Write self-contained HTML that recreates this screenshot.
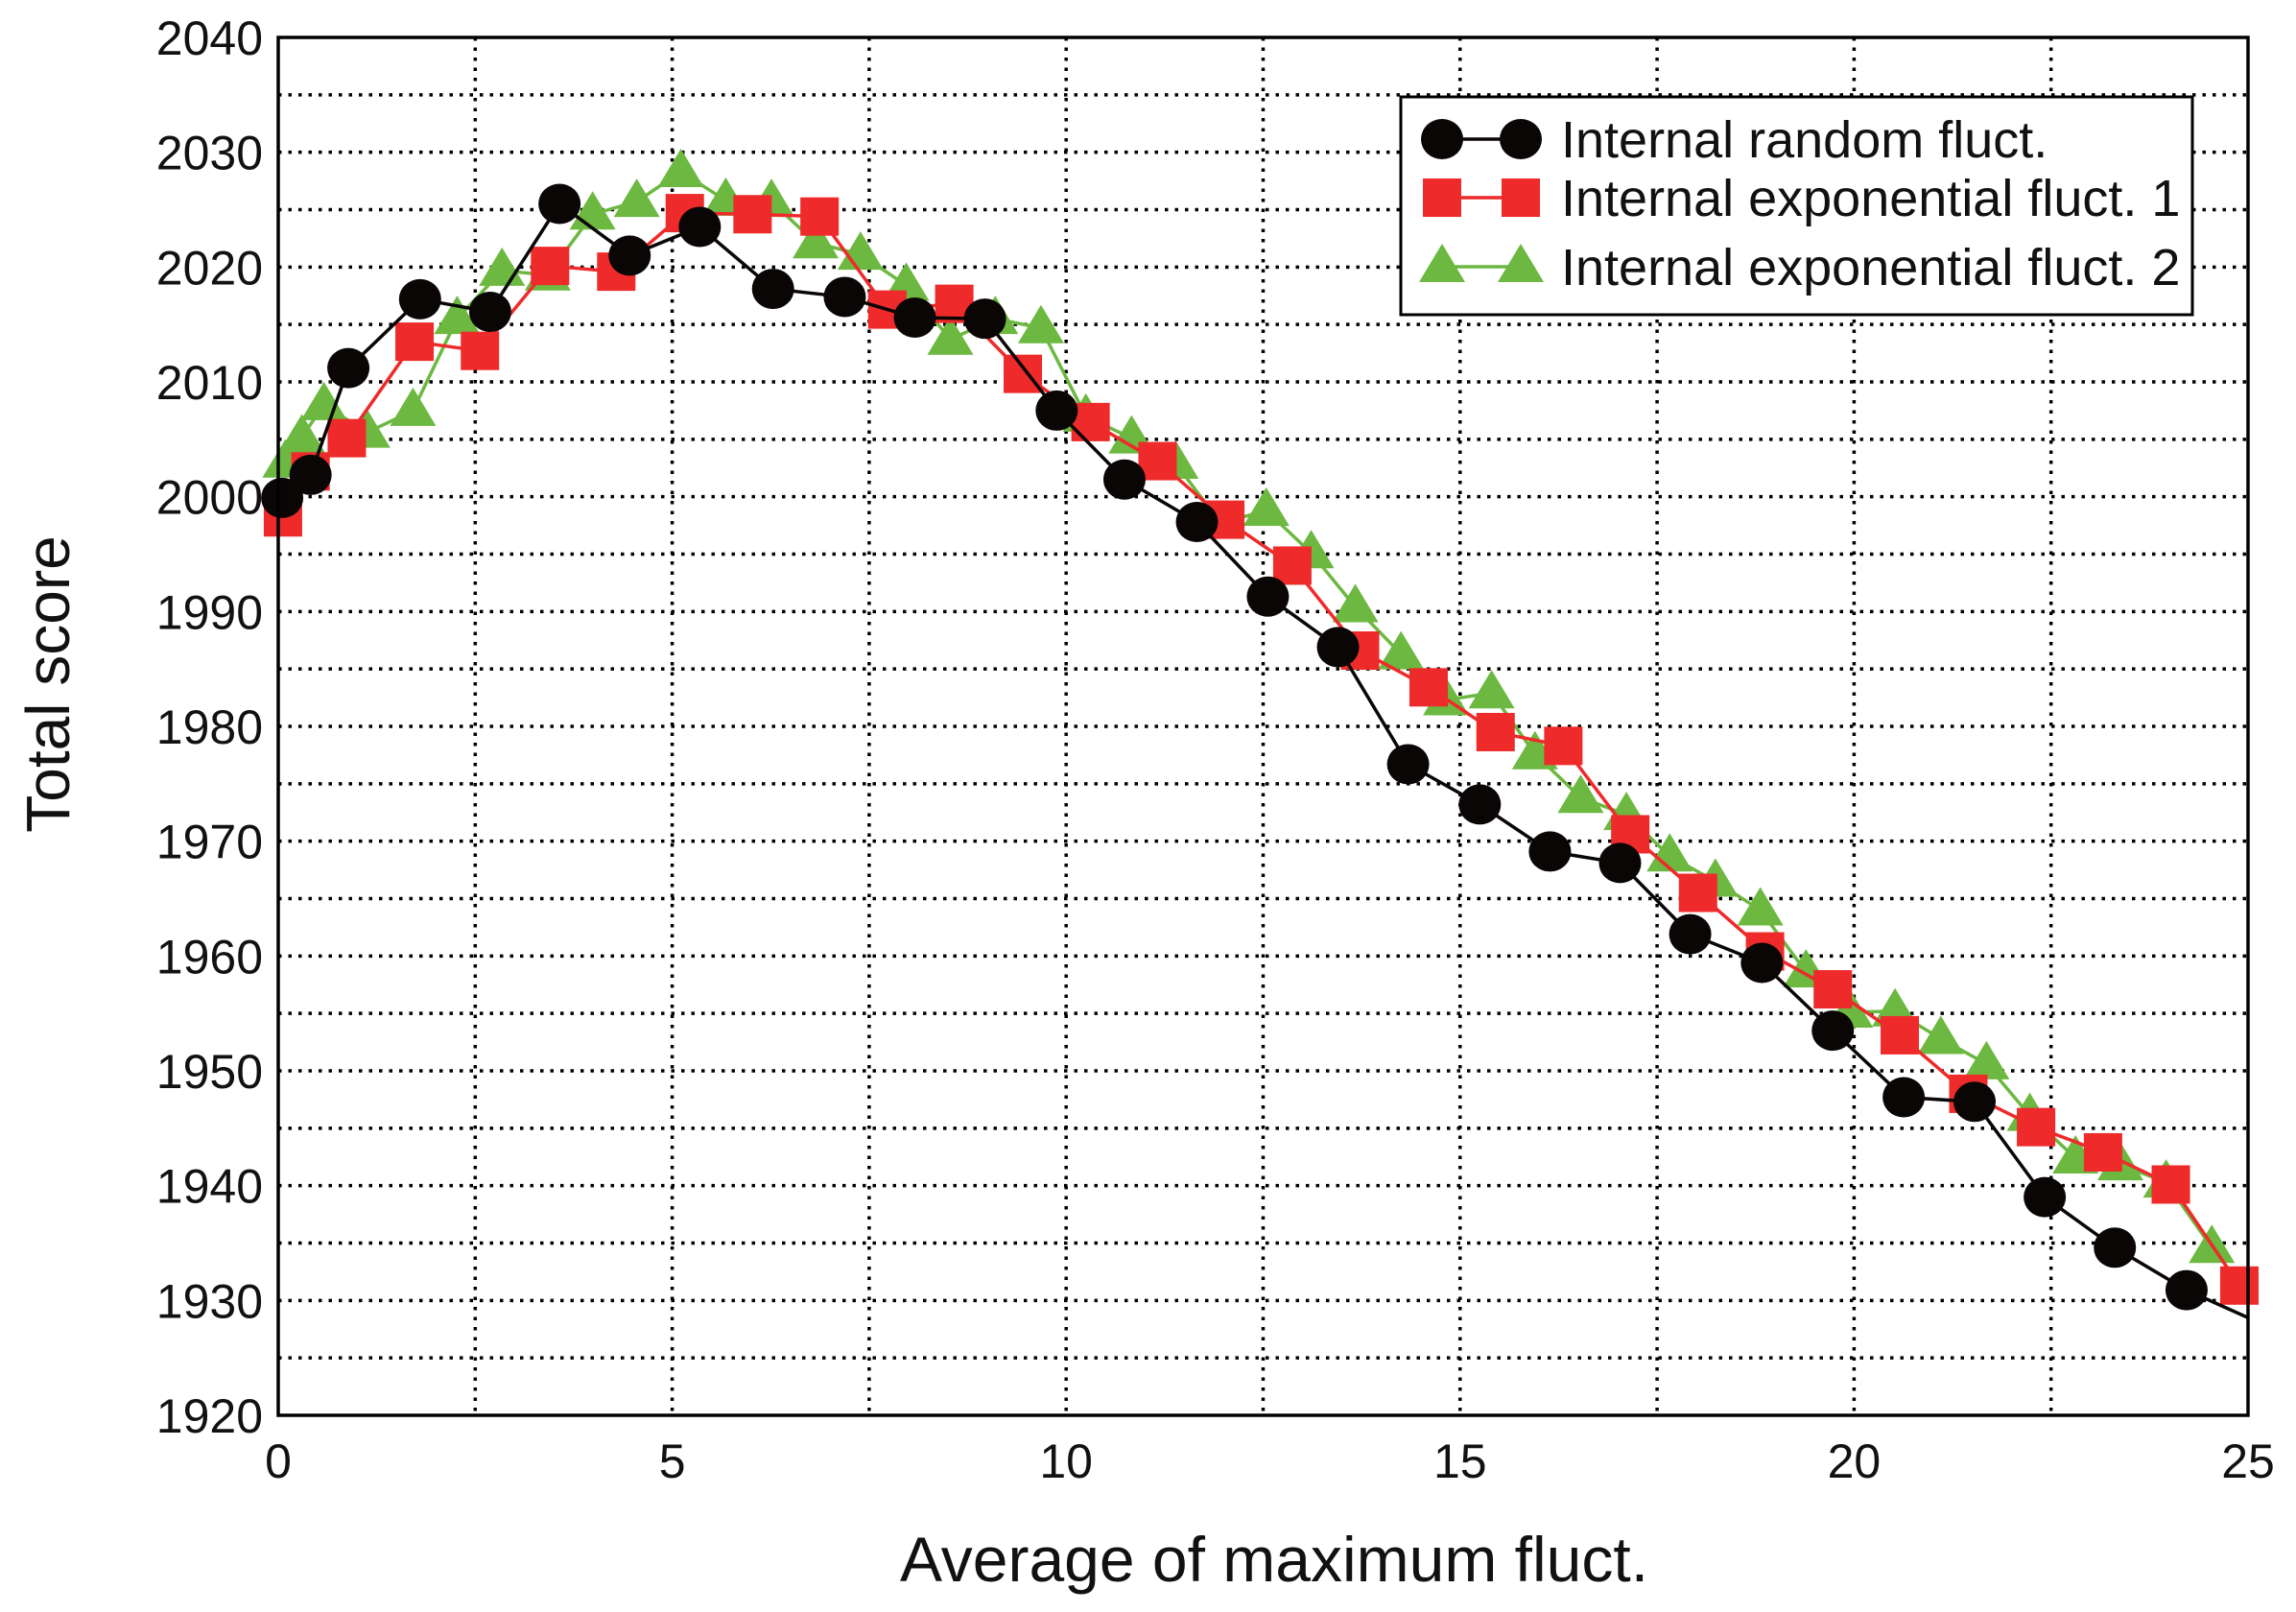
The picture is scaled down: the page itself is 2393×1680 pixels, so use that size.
<!DOCTYPE html>
<html><head><meta charset="utf-8">
<style>
html,body{margin:0;padding:0;background:#fff;}
svg{display:block;font-family:"Liberation Sans",sans-serif;}
</style></head>
<body>
<svg id="chart" width="2393" height="1680" viewBox="0 0 2393 1680" xmlns="http://www.w3.org/2000/svg">
<g id="grid"></g>
<g id="series"></g>
<rect x="290" y="39" width="2053" height="1436" fill="none" stroke="#000" stroke-width="3.5"/>
<g id="ticks" font-size="50" fill="#111"></g>
<text x="0" y="0" transform="translate(72,713) rotate(-90)" text-anchor="middle" font-size="64" fill="#111">Total score</text>
<text x="1328" y="1648" text-anchor="middle" font-size="66" fill="#111">Average of maximum fluct.</text>
<g id="legend">
<rect x="1460" y="101" width="825" height="227" fill="#fff" stroke="#000" stroke-width="3"/>
</g>
</svg>
<script>
const xTicks = [0, 5, 10, 15, 20, 25];
const yTicks = [1920, 1930, 1940, 1950, 1960, 1970, 1980, 1990, 2000, 2010, 2020, 2030, 2040];
const seriesNames = ["Internal random fluct.", "Internal exponential fluct. 1", "Internal exponential fluct. 2"];
const randX = [0.05,0.41,0.89,1.80,2.69,3.57,4.46,5.35,6.28,7.19,8.08,8.97,9.88,10.74,11.66,12.56,13.45,14.34,15.25,16.14,17.03,17.92,18.83,19.73,20.63,21.53,22.42,23.31,24.22,25.0];
const randY = [1999.9,2001.9,2011.2,2017.2,2016.1,2025.5,2021.0,2023.5,2018.1,2017.4,2015.6,2015.5,2007.5,2001.5,1997.8,1991.3,1986.9,1976.7,1973.2,1969.1,1968.1,1961.9,1959.4,1953.5,1947.7,1947.3,1939.0,1934.6,1930.9,1928.5];
const exp1X = [0.06,0.41,0.87,1.73,2.56,3.45,4.29,5.16,6.02,6.87,7.73,8.58,9.45,10.31,11.16,12.02,12.87,13.73,14.60,15.45,16.31,17.16,18.02,18.87,19.73,20.58,21.45,22.31,23.16,24.02,24.89];
const exp1Y = [1998.2,2002.2,2005.1,2013.5,2012.7,2020.1,2019.6,2024.7,2024.6,2024.4,2016.3,2016.8,2010.7,2006.5,2003.1,1998.0,1994.0,1986.6,1983.4,1979.5,1978.3,1970.6,1965.5,1960.4,1957.1,1953.1,1948.0,1945.1,1942.9,1940.1,1931.3];
const exp2X = [0.09,0.30,0.58,1.13,1.71,2.27,2.84,3.42,3.99,4.55,5.11,5.68,6.26,6.82,7.39,7.97,8.53,9.10,9.68,10.25,10.83,11.39,11.96,12.54,13.11,13.67,14.25,14.82,15.40,15.95,16.53,17.11,17.66,18.24,18.81,19.39,19.95,20.52,21.10,21.68,22.23,22.81,23.38,23.96,24.54];
const exp2Y = [2003.0,2005.2,2008.0,2005.6,2007.5,2015.5,2019.7,2019.3,2024.6,2025.7,2028.3,2025.8,2025.7,2022.1,2021.1,2018.4,2013.7,2015.5,2014.7,2007.0,2005.1,2002.9,1997.7,1998.8,1995.1,1990.4,1986.3,1982.3,1982.9,1977.6,1973.8,1972.3,1968.7,1966.5,1964.0,1958.6,1955.1,1955.2,1952.8,1950.6,1946.1,1942.4,1941.8,1940.3,1934.6];

const NS = "http://www.w3.org/2000/svg";
const X0 = 290, X1 = 2343, Y0 = 1475, Y1 = 39;
const xMin = 0, xMax = 25, yMin = 1920, yMax = 2040;
function sx(v){ return X0 + (v - xMin) / (xMax - xMin) * (X1 - X0); }
function sy(v){ return Y0 - (v - yMin) / (yMax - yMin) * (Y0 - Y1); }
function mk(tag, attrs, parent){
  const e = document.createElementNS(NS, tag);
  for (const k in attrs) e.setAttribute(k, attrs[k]);
  parent.appendChild(e);
  return e;
}
const grid = document.getElementById("grid");
for (let v = 2.5; v < 25; v += 2.5) {
  const l = mk("line", {x1: sx(v), x2: sx(v), y1: Y1, y2: Y0, stroke: "#000", "stroke-width": 3.5, "stroke-dasharray": "3.5 7"}, grid);
  
  
}
for (let v = 1925; v < 2040; v += 5) {
  const l = mk("line", {x1: X0, x2: X1, y1: sy(v), y2: sy(v), stroke: "#000", "stroke-width": 3.5, "stroke-dasharray": "3.5 7"}, grid);
  
  
}
const ticks = document.getElementById("ticks");
xTicks.forEach(v => {
  const t = mk("text", {x: sx(v), y: 1540, "text-anchor": "middle"}, ticks);
  t.textContent = v;
  
  
});
yTicks.forEach(v => {
  const t = mk("text", {x: 274, y: sy(v) + 18, "text-anchor": "end"}, ticks);
  t.textContent = v;
  
  
});
function marker(type, cx, cy, color, parent){
  let e;
  if (type === "circle") e = mk("ellipse", {cx: cx, cy: cy, rx: 22, ry: 21, fill: "#0a0606"}, parent);
  else if (type === "square") e = mk("rect", {x: cx - 20, y: cy - 20, width: 40, height: 40, fill: color}, parent);
  else e = mk("polygon", {points: `${cx},${cy-24} ${cx+24},${cy+16} ${cx-24},${cy+16}`, fill: color}, parent);
  return e;
}
const series = document.getElementById("series");
const defs = [
  {xs: exp2X, ys: exp2Y, color: "#6cb840", type: "triangle", name: "series-exp2"},
  {xs: exp1X, ys: exp1Y, color: "#ee2a2a", type: "square", name: "series-exp1"},
  {xs: randX, ys: randY, color: "#0a0606", type: "circle", name: "series-random"}
];
defs.forEach(d => {
  const g = mk("g", {}, series);
  
  
  const pts = d.xs.map((x, i) => sx(x) + "," + sy(d.ys[i])).join(" ");
  const pl = mk("polyline", {points: pts, fill: "none", stroke: d.color, "stroke-width": 3.5}, g);
  
  
  d.xs.forEach((x, i) => {
    if (d.type === "circle" && i === d.xs.length - 1) return;
    const m = marker(d.type, sx(x), sy(d.ys[i]), d.color, g);
    
    
  });
});
const legend = document.getElementById("legend");
const legRows = [{y: 145, color: "#0a0606", type: "circle"}, {y: 206, color: "#ee2a2a", type: "square"}, {y: 278, color: "#6cb840", type: "triangle"}];
legRows.forEach((r, i) => {
  const g = mk("g", {}, legend);
  
  
  mk("line", {x1: 1503, x2: 1585, y1: r.y, y2: r.y, stroke: r.color, "stroke-width": 3.5}, g);
  marker(r.type, 1503, r.y, r.color, g);
  marker(r.type, 1585, r.y, r.color, g);
  const t = mk("text", {x: 1627, y: r.y + 19, "font-size": 54, fill: "#111"}, g);
  t.textContent = seriesNames[i];
});
</script>
</body></html>
